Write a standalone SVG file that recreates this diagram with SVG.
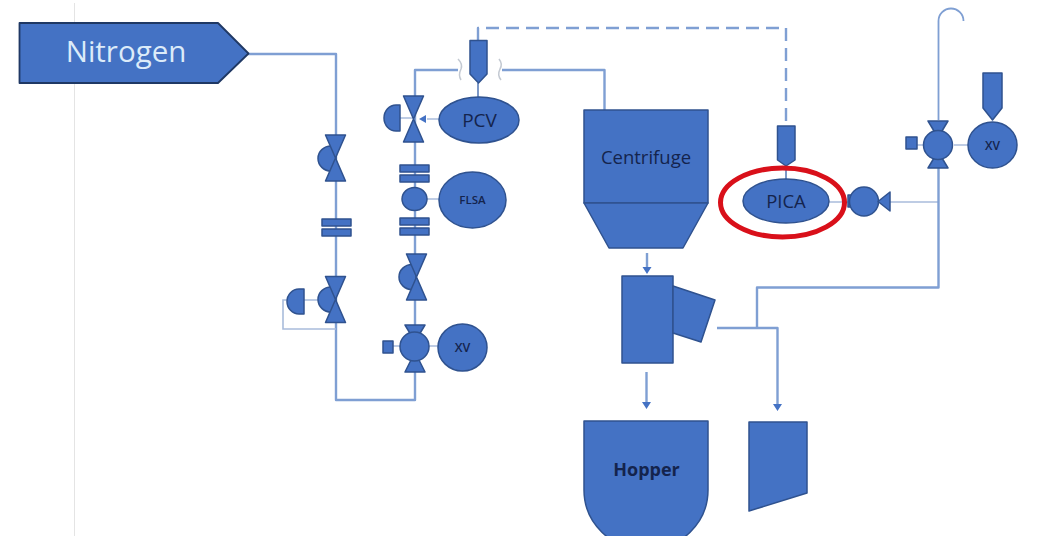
<svg xmlns="http://www.w3.org/2000/svg" width="1058" height="536" viewBox="0 0 1058 536">
<style>
.p{fill:none;stroke:#7f9fd3;stroke-width:2.4;stroke-linejoin:round}
.h{fill:none;stroke:#7f9fd3;stroke-width:1.8}
.t{fill:none;stroke:#a9bcdb;stroke-width:1.6}
.b{fill:none;stroke:#c3c9d2;stroke-width:1.5}
.s{fill:#4472c4;stroke:#2f528f;stroke-width:1.5;stroke-linejoin:round}
.a{fill:#4472c4}
text{font-family:"Open Sans","Noto Sans",sans-serif;fill:#14244d;text-anchor:middle}
</style>
<defs>
<g id="bowtie"><path class="s" d="M-10,-23H10L0,0L10,23H-10L0,0Z"/></g>
<g id="flange"><rect class="s" x="-14.500" y="-8.500" width="29" height="7"/><rect class="s" x="-14.500" y="1.500" width="29" height="7"/></g>
</defs>
<rect width="1058" height="536" fill="#fff"/>
<path d="M74.500,3V536" stroke="#e4e4e4" stroke-width="1"/>
<g id="connectors">
<path class="p" d="M248,54H336V400H415V70H458"/>
<path class="p" d="M502,70H604.500V110"/>
<path class="b" d="M458,59Q463,64 461,69Q458,75 461,80M499,59Q503,64 500,69Q497,75 501,80"/>
<path class="p" stroke-dasharray="13 7" d="M478,40V28H786V125"/>
<path class="t" d="M427,119H439M400,118H413M427,199H440M304,300H318M287,300H283V329H336M429,346H438M400,346H393M820,202H850M890,202H938M954,145H968M923,145H917"/>
<path d="M478,83V97M786,165V180" fill="none" stroke="#5d7fb9" stroke-width="1.6"/>
<path class="h" d="M938.500,120V21A12.500,12.500 0 0 1 963.500,21"/>
<path class="p" d="M938.500,168V287.500H757V328"/>
<path class="p" d="M717,328H777.500V405"/>
<path class="p" d="M647,253V268"/>
<path class="p" d="M646.500,372V403"/>
<path class="a" d="M642.500,267H651.500L647,274ZM642,402H651L646.500,409ZM773,404H782L777.500,411ZM426,115V123L419,119Z"/>
</g>
<g id="nitrogen"><path d="M19.500,23H218L248.500,53.500L218,83H19.500Z" fill="#4472c4" stroke="#1f3864" stroke-width="1.8" stroke-linejoin="round"/><text x="126" y="62" font-size="29.500" style="fill:#dcebf9">Nitrogen</text></g>
<g id="valve-left-top"><path class="s" d="M336,146H331A13,12.500 0 0 0 331,171H336Z"/><use href="#bowtie" transform="translate(335.500,158)"/></g>
<g id="flange-left"><use href="#flange" transform="translate(336.500,227.500)"/></g>
<g id="valve-left-bottom"><path class="s" d="M336,287H331A13,12.500 0 0 0 331,312H336Z"/><use href="#bowtie" transform="translate(335.500,299.500)"/><path class="s" d="M304,289H299A12,12.500 0 0 0 299,314H304Z"/></g>
<g id="valve-pcv"><use href="#bowtie" transform="translate(413.500,119)"/><path class="s" d="M400,105H396A12,13 0 0 0 396,131H400Z"/></g>
<g id="pcv"><ellipse class="s" cx="479" cy="120" rx="40" ry="23"/><text x="479.500" y="127" font-size="19" font-weight="500">PCV</text></g>
<g id="sensor-top"><path class="s" d="M470,40.500H487V74L478.500,83L470,74Z"/></g>
<g id="flange-mid-1"><use href="#flange" transform="translate(414.500,173.500)"/></g>
<g id="flsa-joint"><ellipse class="s" cx="414.500" cy="199" rx="12.500" ry="11.500"/></g>
<g id="flsa"><ellipse class="s" cx="472.500" cy="200" rx="33.500" ry="28"/><text x="472.500" y="204" font-size="11.500" font-weight="600">FLSA</text></g>
<g id="flange-mid-2"><use href="#flange" transform="translate(414.500,226.500)"/></g>
<g id="valve-mid"><path class="s" d="M416,264.500H412A13,12.500 0 0 0 412,289.500H416Z"/><use href="#bowtie" transform="translate(416.500,277)"/></g>
<g id="valve-xv-left"><path class="s" d="M405,325H425L419,335H411ZM405,372H425L419,360H411Z"/><circle class="s" cx="414.500" cy="346.500" r="14.500"/><rect class="s" x="383" y="341" width="10" height="12"/></g>
<g id="xv-left"><ellipse class="s" cx="462.500" cy="347.500" rx="24.500" ry="23.500"/><text x="462.500" y="352" font-size="12.500" font-weight="600">XV</text></g>
<g id="centrifuge"><path class="s" d="M584,110H708V203H584Z"/><path class="s" d="M584,203H708L683,248H609Z"/><text x="646" y="164" font-size="18.500" font-weight="500">Centrifuge</text></g>
<g id="separator"><rect class="s" x="622" y="276" width="51" height="87"/><path class="s" d="M673,286L715,300L701,342L673,333Z"/></g>
<g id="hopper"><path class="s" d="M584,421H708V490A62,60 0 0 1 584,490Z"/><text x="646.500" y="476" font-size="18" font-weight="700">Hopper</text></g>
<g id="bin"><path class="s" d="M749,422H807V493L749,511Z"/></g>
<g id="sensor-pica"><path class="s" d="M777.500,126H795V160L786,166L777.500,160Z"/></g>
<g id="pica"><ellipse class="s" cx="786" cy="201" rx="43" ry="22"/><text x="786" y="208" font-size="18.500" font-weight="500">PICA</text></g>
<g id="pump"><rect class="s" x="848" y="195" width="5" height="12"/><circle class="s" cx="864" cy="201.500" r="14.500"/><path class="s" d="M890,192V211L878,201.500Z"/></g>
<ellipse id="highlight" cx="782.500" cy="202.500" rx="62" ry="34.500" fill="none" stroke="#d9101a" stroke-width="5"/>
<g id="valve-xv-right"><path class="s" d="M928,121H948L942,131H934ZM928,168H948L942,158H934Z"/><circle class="s" cx="938" cy="145" r="14.500"/><rect class="s" x="906" y="137" width="11" height="12"/></g>
<g id="xv-right"><ellipse class="s" cx="992.500" cy="145" rx="24.500" ry="23"/><text x="992.500" y="150" font-size="12" font-weight="600">XV</text></g>
<g id="sensor-right"><path class="s" d="M983,73H1002V108L992.500,120L983,108Z"/></g>
</svg>
